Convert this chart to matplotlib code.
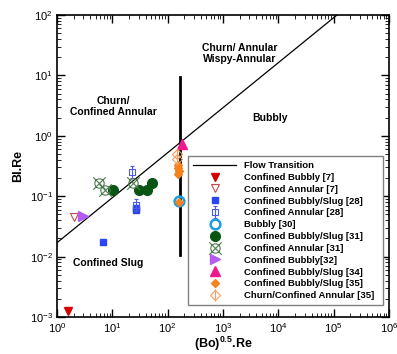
import numpy as np
import matplotlib
matplotlib.use("Agg")
import matplotlib.pyplot as plt
from matplotlib.path import Path
from matplotlib.ticker import LogLocator, NullFormatter

plt.rcParams['font.family'] = ['Liberation Sans', 'DejaVu Sans']
plt.rcParams['mathtext.default'] = 'regular'

# data
cb7_x, cb7_y = [1.6], [0.00125]
ca7_x, ca7_y = [2.0], [0.046]
cbs28_x, cbs28_y = [6.7, 27.0, 27.0], [0.0177, 0.059, 0.064]
ca28_x, ca28_y = [22.6, 27.0], [0.25, 0.071]
b30_x, b30_y = [162.0], [0.082]
cbs31_x, cbs31_y = [10.2, 29.8, 43.0, 52.0], [0.127, 0.127, 0.127, 0.164]
ca31_x, ca31_y = [5.65, 7.45, 23.5], [0.164, 0.127, 0.164]
cb32_x, cb32_y = [3.0], [0.047]
cbs34_x, cbs34_y = [178.0], [0.72]
cbs35_x, cbs35_y = [155.0, 155.0, 158.0, 155.0, 160.0], [0.33, 0.29, 0.26, 0.23, 0.08]
cca35_x, cca35_y = [150.0, 150.0], [0.50, 0.42]

# transition line y = a * x^b, vertical boundary
trans_a, trans_b = 0.017, 0.745
vline_x = 165.0
vline_y = [0.0107, 9.3]

# custom marker paths
def compound(*paths):
    return Path.make_compound_path(*paths)

sq = Path([(-0.5, -0.5), (0.5, -0.5), (0.5, 0.5), (-0.5, 0.5), (-0.5, -0.5)])
bar = Path([(0, -1), (0, 1)], [Path.MOVETO, Path.LINETO])
caps = Path([(-0.35, 1), (0.35, 1), (-0.35, -1), (0.35, -1)],
            [Path.MOVETO, Path.LINETO, Path.MOVETO, Path.LINETO])
sq_bar = compound(sq, bar, caps)

circ = Path.unit_circle()
cross = Path([(-1, -1), (1, 1), (-1, 1), (1, -1)],
             [Path.MOVETO, Path.LINETO, Path.MOVETO, Path.LINETO])
circ_x = compound(Path(circ.vertices * 0.75, circ.codes), cross)

dia = Path([(0, -1), (1, 0), (0, 1), (-1, 0), (0, -1)])
dia_bar = compound(Path(dia.vertices * 0.8), Path([(0, -1.0), (0, 1.0)], [Path.MOVETO, Path.LINETO]))

fig = plt.figure(figsize=(3.97, 3.54), dpi=100)
ax = fig.add_axes([0.1436, 0.1045, 0.8362, 0.8531])

xx = np.logspace(0, 6, 200)
ax.plot(xx, trans_a * xx ** trans_b, color='black', lw=0.9, label='Flow Transition')
ax.plot([vline_x, vline_x], vline_y, color='black', lw=2, zorder=2)

ms = 5.5
ax.plot(cb7_x, cb7_y, ls='none', marker='v', ms=ms, color='#D40000', label='Confined Bubbly [7]')
ax.plot(ca7_x, ca7_y, ls='none', marker='v', ms=ms, mfc='none', mec='#C84848', mew=0.8, label='Confined Annular [7]')
ax.plot(cbs28_x, cbs28_y, ls='none', marker='s', ms=ms - 0.5, color='#2B45F5', label='Confined Bubbly/Slug [28]')
ax.plot(ca28_x, ca28_y, ls='none', marker=sq_bar, ms=9, mfc='none', mec='#4B5BE8', mew=0.8, label='Confined Annular [28]')
ax.plot(b30_x, b30_y, ls='none', marker='o', ms=7, mfc='none', mec='#1C9BE6', mew=1.8, label='Bubbly [30]')
ax.plot(cbs31_x, cbs31_y, ls='none', marker='o', ms=7, color='#0B5514', label='Confined Bubbly/Slug [31]')
ax.plot(ca31_x, ca31_y, ls='none', marker=circ_x, ms=9, mfc='none', mec='#4E7D4E', mew=0.8, label='Confined Annular [31]')
ax.plot(cb32_x, cb32_y, ls='none', marker='>', ms=ms + 1, color='#B35CF2', label='Confined Bubbly[32]')
ax.plot(cbs34_x, cbs34_y, ls='none', marker='^', ms=ms + 1, color='#F0198C', label='Confined Bubbly/Slug [34]')
ax.plot(cbs35_x, cbs35_y, ls='none', marker='D', ms=ms - 1, color='#F5821F', label='Confined Bubbly/Slug [35]')
ax.plot(cca35_x, cca35_y, ls='none', marker=dia_bar, ms=9, mfc='none', mec='#F5A060', mew=0.8, label='Churn/Confined Annular [35]')

ax.set_xscale('log')
ax.set_yscale('log')
ax.set_xlim(1, 1e6)
ax.set_ylim(1e-3, 1e2)
ax.xaxis.set_major_locator(LogLocator(base=10, numticks=10))
ax.yaxis.set_major_locator(LogLocator(base=10, numticks=10))
ax.xaxis.set_minor_locator(LogLocator(base=10, subs=np.arange(2, 10), numticks=20))
ax.yaxis.set_minor_locator(LogLocator(base=10, subs=np.arange(2, 10), numticks=20))
ax.xaxis.set_minor_formatter(NullFormatter())
ax.yaxis.set_minor_formatter(NullFormatter())
ax.tick_params(which='both', direction='in', top=True, right=True, labelsize=8)
ax.tick_params(which='major', length=6, width=1, pad=3)
ax.tick_params(which='minor', length=3, width=0.6)
for s in ax.spines.values():
    s.set_linewidth(1.2)

ax.set_xlabel('(Bo)$^{0.5}$.Re', fontsize=9, fontweight='bold', labelpad=0)
ax.set_ylabel('Bl.Re', fontsize=9, fontweight='bold', labelpad=4)

ax.text(10.3, 3.1, 'Churn/\nConfined Annular', ha='center', va='center', fontsize=7.5,
        fontweight='bold', linespacing=1.1)
ax.text(2000, 23, 'Churn/ Annular\nWispy-Annular', ha='center', va='center', fontsize=7.5,
        fontweight='bold', linespacing=1.1)
ax.text(7000, 2.0, 'Bubbly', ha='center', va='center', fontsize=7.5, fontweight='bold')
ax.text(8.3, 0.0078, 'Confined Slug', ha='center', va='center', fontsize=7.5, fontweight='bold')

leg = ax.legend(loc='lower left', bbox_to_anchor=(0.395, 0.04, 0.587, 0.503), mode='expand',
                fontsize=6.8, handlelength=4.6, labelspacing=0.3, borderpad=0.5,
                handletextpad=0.8, fancybox=False, framealpha=1, borderaxespad=0)
leg.get_frame().set_edgecolor('#808080')
leg.get_frame().set_linewidth(1)
for t in leg.get_texts():
    t.set_fontweight('bold')

fig.savefig('out.png', dpi=100)
